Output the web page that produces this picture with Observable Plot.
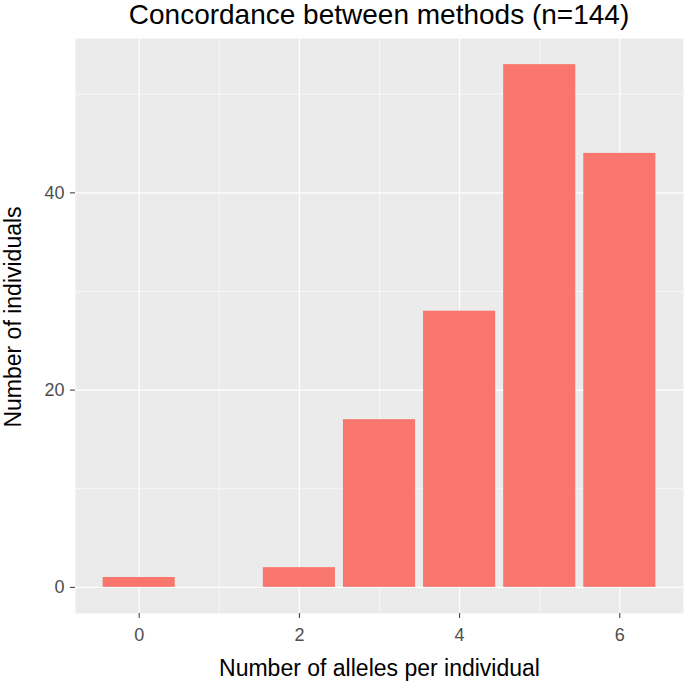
<!DOCTYPE html>
<html><head><meta charset="utf-8">
<script src="https://cdn.jsdelivr.net/npm/d3@7"></script>
<script src="https://cdn.jsdelivr.net/npm/@observablehq/plot@0.6"></script>
<style>
body{margin:0;background:#fff;font-family:"Liberation Sans",Arial,sans-serif;}
#title{height:30px;line-height:30px;font-size:28px;color:#000;text-align:center;padding-left:75px;padding-right:2px;box-sizing:border-box;width:685px;white-space:nowrap;}
</style></head>
<body>
<div id="title">Concordance between methods (n=144)</div>
<div id="chart"></div>
<script>
const alleles = [0, 2, 3, 4, 5, 6];
const counts = [1, 2, 17, 28, 53, 44];
const xTicks = [0, 2, 4, 6];
const xMinor = [1, 3, 5];
const yTicks = [0, 20, 40];
const yMinor = [10, 30, 50];
const barColor = "#F8766D";

const data = alleles.map((a, i) => ({x: a, n: counts[i]}));

const chart = Plot.plot({
  width: 685,
  height: 655,
  marginLeft: 75,
  marginRight: 2,
  marginTop: 8,
  marginBottom: 72,
  style: {fontFamily: "'Liberation Sans', Arial, sans-serif", fontSize: "18px", background: "#fff"},
  x: {domain: [-0.795, 6.795]},
  y: {domain: [-2.65, 55.65]},
  marks: [
    Plot.frame({fill: "#EBEBEB", stroke: null}),
    Plot.ruleX(xMinor, {stroke: "white", strokeWidth: 0.6}),
    Plot.ruleY(yMinor, {stroke: "white", strokeWidth: 0.6}),
    Plot.ruleX(xTicks, {stroke: "white", strokeWidth: 1.2}),
    Plot.ruleY(yTicks, {stroke: "white", strokeWidth: 1.2}),
    Plot.rectY(data, {x1: d => d.x - 0.45, x2: d => d.x + 0.45, y1: 0, y2: "n", fill: barColor}),
    Plot.axisX(xTicks, {tickSize: 5, tickPadding: 10, stroke: "#333", color: "#4D4D4D",
      label: "Number of alleles per individual", labelAnchor: "center", labelArrow: "none", labelOffset: 62}),
    Plot.axisY(yTicks, {tickSize: 5, tickPadding: 6, stroke: "#333", color: "#4D4D4D",
      label: "Number of individuals", labelAnchor: "center", labelArrow: "none", labelOffset: 71})
  ]
});
document.getElementById("chart").appendChild(chart);
chart.querySelectorAll("g[aria-label='x-axis tick label'], g[aria-label='y-axis tick label']").forEach(g => {
  g.setAttribute("font-size", "18px");
});
chart.querySelectorAll("g[aria-label='x-axis label'], g[aria-label='y-axis label']").forEach(g => {
  g.setAttribute("font-size", "23px"); g.setAttribute("fill", "#000");
  g.querySelectorAll("text").forEach(t => { t.setAttribute("font-size", "23px"); t.setAttribute("fill", "#000"); });
});
// nudge the y title slightly upward, as in the reference
chart.querySelectorAll("g[aria-label='y-axis label'] text").forEach(t => {
  const tr = t.getAttribute("transform") || "";
  const m = tr.match(/translate\(([-\d.]+),\s*([-\d.]+)\)/);
  if (m) t.setAttribute("transform", tr.replace(m[0], `translate(${+m[1]},${+m[2] - 9})`));
});
</script>
</body></html>
